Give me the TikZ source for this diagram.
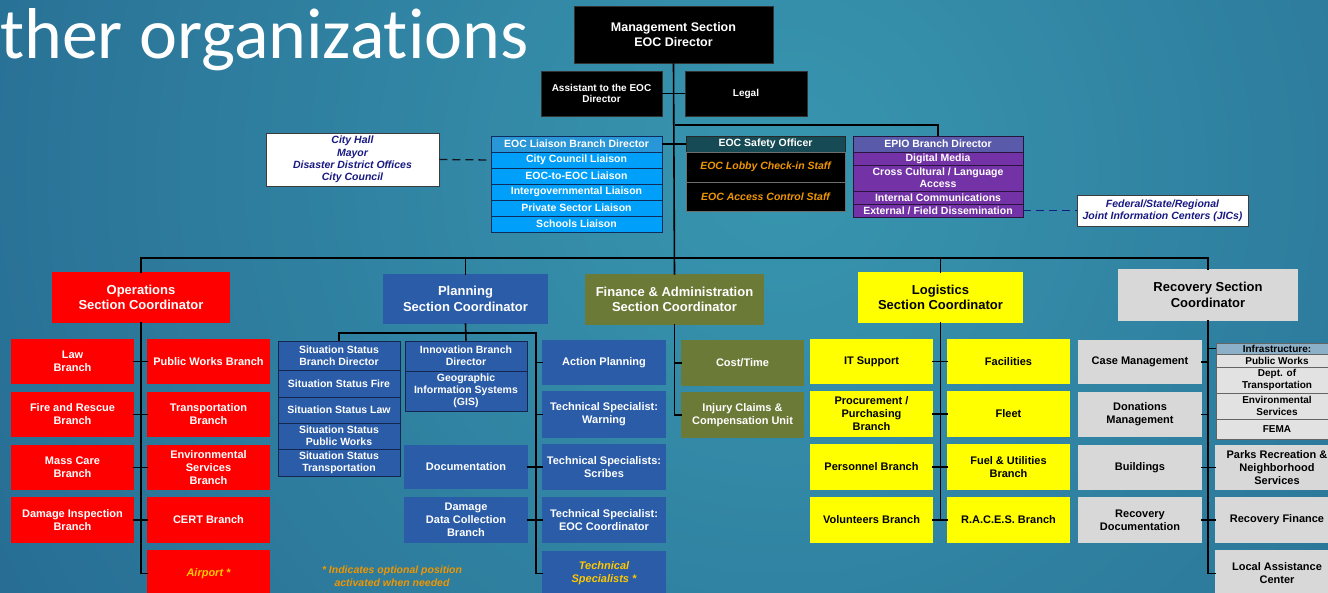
\documentclass[tikz,border=0pt]{standalone}
\usepackage{fontspec}
\setmainfont{Liberation Sans}
\newfontfamily\titlefont[Ligatures=NoCommon]{Carlito}
\definecolor{bgA}{RGB}{30,86,132}
\definecolor{bgB}{RGB}{56,150,175}
\definecolor{redf}{RGB}{255,0,0}
\definecolor{redd}{RGB}{110,0,0}
\definecolor{bluef}{RGB}{42,92,168}
\definecolor{blued}{RGB}{18,38,80}
\definecolor{olivef}{RGB}{108,122,56}
\definecolor{olived}{RGB}{45,52,25}
\definecolor{yelf}{RGB}{255,255,0}
\definecolor{yeld}{RGB}{90,90,20}
\definecolor{grayf}{RGB}{216,216,216}
\definecolor{grayd}{RGB}{100,100,100}
\definecolor{liaf}{RGB}{0,160,250}
\definecolor{liahf}{RGB}{40,150,215}
\definecolor{liad}{RGB}{15,45,90}
\definecolor{safhf}{RGB}{22,74,84}
\definecolor{epiohf}{RGB}{90,90,170}
\definecolor{epiof}{RGB}{115,50,165}
\definecolor{epiod}{RGB}{40,20,60}
\definecolor{infhf}{RGB}{140,176,200}
\definecolor{inff}{RGB}{226,226,226}
\definecolor{orT}{RGB}{240,150,0}
\definecolor{ylT}{RGB}{255,200,0}
\definecolor{navyT}{RGB}{25,25,130}
\definecolor{blkd}{RGB}{50,50,50}
\definecolor{safd}{RGB}{40,40,40}
\definecolor{safsep}{RGB}{110,110,110}
\definecolor{extd}{RGB}{60,60,60}
\definecolor{dshA}{RGB}{20,20,30}
\definecolor{dshB}{RGB}{20,30,130}
\newcommand\bx[7]{\node[#6, minimum width={#4-#2}, minimum height={#5-#3}] (#1) at ({(#2+#4)/2},{(#3+#5)/2}) {#7};}
\tikzset{
  box/.style={inner sep=0pt, align=center, font=\bfseries\fontsize{11}{13}\selectfont},
  small/.style={font=\bfseries\fontsize{10}{11.5}\selectfont},
  sec/.style={font=\bfseries\fontsize{13}{15.5}\selectfont},
  dbl/.style={line width=0.6pt, double distance=1.3pt},
  redb/.style={box, dbl, fill=redf, draw=redd, double=redf, text=white},
  blueb/.style={box, dbl, fill=bluef, draw=blued, double=bluef, text=white},
  oliveb/.style={box, dbl, fill=olivef, draw=olived, double=olivef, text=white},
  yelb/.style={box, dbl, fill=yelf, draw=yeld, double=yelf, text=black},
  grayb/.style={box, dbl, fill=grayf, draw=grayd, double=grayf, text=black},
  blk/.style={box, fill=black, draw=blkd, line width=0.6pt, text=white},
  cell/.style={box, line width=0.6pt, font=\bfseries\fontsize{10.5}{12}\selectfont},
  liahd/.style={cell, fill=liahf, draw=liad, text=white},
  liac/.style={cell, fill=liaf, draw=liad, text=white},
  safhd/.style={cell, fill=safhf, draw=safd, text=white},
  safc/.style={cell, fill=black, draw=safsep, text=orT, font=\bfseries\itshape\fontsize{10.5}{12.5}\selectfont},
  epiohd/.style={cell, fill=epiohf, draw=epiod, text=white},
  epioc/.style={cell, fill=epiof, draw=epiod, text=white},
  sitc/.style={cell, fill=bluef, draw=blued, text=white},
  infhd/.style={cell, small, fill=infhf, draw=grayd, text=black},
  infc/.style={cell, small, fill=inff, draw=grayd, text=black},
  ext/.style={box, fill=white, draw=extd, line width=0.8pt, text=navyT, font=\bfseries\itshape\fontsize{10.5}{12.3}\selectfont},
  conn/.style={draw=black, line width=1.6pt},
  dsh/.style={dash pattern=on 8pt off 5pt, line width=1.3pt},
  italy/.style={text=ylT, font=\bfseries\itshape\fontsize{11}{13}\selectfont},
}
\begin{document}
\begin{tikzpicture}[x=1pt,y=-1pt]
\useasboundingbox (0,0) rectangle (1328,592);
\clip (0,0) rectangle (1328,592);
\shade[inner color=bgB, outer color=bgA] (780,170) circle (1400pt);
\node[anchor=base west, inner sep=0pt, text=white, font=\titlefont\fontsize{72}{80}\selectfont] (title) at (0,58) {ther organizations};

% ---------- top ----------
\bx{mgmt}{574}{6}{773}{63}{blk,font=\bfseries\fontsize{12.5}{15}\selectfont}{Management Section\\EOC Director}
\bx{asst}{541}{71}{662}{116}{blk,small}{Assistant to the EOC\\Director}
\bx{legal}{685}{71}{807}{116}{blk,small}{Legal}

\bx{liah}{491}{136}{662}{152}{liahd}{EOC Liaison Branch Director}
\bx{lia1}{491}{152}{662}{168}{liac}{City Council Liaison}
\bx{lia2}{491}{168}{662}{184}{liac}{EOC-to-EOC Liaison}
\bx{lia3}{491}{184}{662}{200}{liac}{Intergovernmental Liaison}
\bx{lia4}{491}{200}{662}{216}{liac}{Private Sector Liaison}
\bx{lia5}{491}{216}{662}{232}{liac}{Schools Liaison}

\bx{safh}{686}{136}{845}{152}{safhd}{EOC Safety Officer}
\bx{saf1}{686}{152}{845}{182}{safc}{EOC Lobby Check-in Staff}
\bx{saf2}{686}{182}{845}{211}{safc}{EOC Access Control Staff}

\bx{epioh}{853}{136}{1023}{152}{epiohd}{EPIO Branch Director}
\bx{epio1}{853}{152}{1023}{165}{epioc}{Digital Media}
\bx{epio2}{853}{165}{1023}{191}{epioc}{Cross Cultural / Language\\Access}
\bx{epio3}{853}{191}{1023}{204}{epioc}{Internal Communications}
\bx{epio4}{853}{204}{1023}{217}{epioc}{External / Field Dissemination}

\bx{city}{266}{133}{439}{186}{ext}{City Hall\\Mayor\\Disaster District Offices\\City Council}
\bx{fed}{1077}{195}{1248}{226}{ext}{Federal/State/Regional\\Joint Information Centers (JICs)}

% ---------- sections ----------
\bx{ops}{53}{273}{229}{322}{redb,sec}{Operations\\Section Coordinator}
\bx{plan}{384}{275}{547}{323}{blueb,sec}{Planning\\Section Coordinator}
\bx{fin}{586}{275}{763}{324}{oliveb,sec}{Finance \& Administration\\Section Coordinator}
\bx{log}{859}{273}{1022}{322}{yelb,sec}{Logistics\\Section Coordinator}
\bx{rec}{1119}{270}{1297}{320}{grayb,sec}{Recovery Section\\Coordinator}

% ---------- operations ----------
\bx{law}{12}{340}{133}{383}{redb}{Law\\Branch}
\bx{fire}{12}{393}{133}{436}{redb}{Fire and Rescue\\Branch}
\bx{mass}{12}{446}{133}{489}{redb}{Mass Care\\Branch}
\bx{dmgi}{12}{498}{133}{542}{redb}{Damage Inspection\\Branch}
\bx{pwb}{148}{340}{269}{383}{redb}{Public Works Branch}
\bx{trb}{148}{393}{269}{436}{redb}{Transportation\\Branch}
\bx{env}{148}{446}{269}{489}{redb}{Environmental\\Services\\Branch}
\bx{cert}{148}{498}{269}{542}{redb}{CERT Branch}
\bx{airport}{148}{551}{269}{596}{redb,italy}{Airport *}

% ---------- planning ----------
\bx{sit1}{278}{341}{400}{370}{sitc}{Situation Status\\Branch Director}
\bx{sit2}{278}{370}{400}{397}{sitc}{Situation Status Fire}
\bx{sit3}{278}{397}{400}{423}{sitc}{Situation Status Law}
\bx{sit4}{278}{423}{400}{449}{sitc}{Situation Status\\Public Works}
\bx{sit5}{278}{449}{400}{476}{sitc}{Situation Status\\Transportation}
\bx{inn1}{405}{341}{527}{371}{sitc}{Innovation Branch\\Director}
\bx{inn2}{405}{371}{527}{411}{sitc}{Geographic\\Information Systems\\(GIS)}
\bx{doc}{405}{446}{527}{488}{blueb}{Documentation}
\bx{dmgd}{405}{498}{527}{542}{blueb}{Damage\\Data Collection\\Branch}
\bx{ap}{543}{341}{665}{384}{blueb}{Action Planning}
\bx{tsw}{543}{392}{665}{437}{blueb}{Technical Specialist:\\Warning}
\bx{tss}{543}{445}{665}{489}{blueb}{Technical Specialists:\\Scribes}
\bx{tse}{543}{498}{665}{542}{blueb}{Technical Specialist:\\EOC Coordinator}
\bx{tsx}{543}{552}{665}{595}{blueb,italy}{Technical\\Specialists *}
\node[inner sep=0pt, align=center, text=orT, font=\bfseries\itshape\fontsize{10.5}{12.5}\selectfont] (foot) at (392,576) {* Indicates optional position\\activated when needed};

% ---------- finance ----------
\bx{cost}{682}{341}{803}{385}{oliveb}{Cost/Time}
\bx{inj}{682}{393}{803}{437}{oliveb}{Injury Claims \&\\Compensation Unit}

% ---------- logistics ----------
\bx{it}{811}{340}{932}{383}{yelb}{IT Support}
\bx{proc}{811}{392}{932}{436}{yelb}{Procurement /\\Purchasing\\Branch}
\bx{pers}{811}{445}{932}{489}{yelb}{Personnel Branch}
\bx{vol}{811}{498}{932}{542}{yelb}{Volunteers Branch}
\bx{fac}{948}{340}{1069}{383}{yelb}{Facilities}
\bx{fleet}{948}{392}{1069}{436}{yelb}{Fleet}
\bx{fuel}{948}{445}{1069}{489}{yelb}{Fuel \& Utilities\\Branch}
\bx{races}{948}{498}{1069}{542}{yelb}{R.A.C.E.S. Branch}

% ---------- recovery ----------
\bx{case}{1079}{341}{1201}{383}{grayb}{Case Management}
\bx{don}{1079}{393}{1201}{436}{grayb}{Donations\\Management}
\bx{bld}{1079}{446}{1201}{489}{grayb}{Buildings}
\bx{rdoc}{1079}{498}{1201}{542}{grayb}{Recovery\\Documentation}
\bx{infh}{1216}{343}{1338}{354}{infhd}{Infrastructure:}
\bx{inf1}{1216}{354}{1338}{367}{infc}{Public Works}
\bx{inf2}{1216}{367}{1338}{393}{infc}{Dept. of\\Transportation}
\bx{inf3}{1216}{393}{1338}{419}{infc}{Environmental\\Services}
\bx{inf4}{1216}{419}{1338}{439}{infc}{FEMA}
\bx{parks}{1216}{446}{1338}{489}{grayb}{Parks Recreation \&\\Neighborhood\\Services}
\bx{rfin}{1216}{498}{1338}{542}{grayb}{Recovery Finance}
\bx{lac}{1216}{551}{1338}{596}{grayb}{Local Assistance\\Center}

% ---------- connectors ----------
\coordinate (bus) at (675,258);
\coordinate (j1) at (675,125);
\coordinate (pbar) at (536,333);
\draw[conn] (mgmt.south) -- (fin.north);
\draw[conn] (asst.east) -- (legal.west);
\draw[conn] (j1) -| (epioh.north);
\draw[conn] (liah.east) -- (safh.west);
\draw[dsh, draw=dshA] (city.east) -- (lia1.west);
\draw[dsh, draw=dshB] (epio4.east) -- (fed.west);
\draw[conn, line width=2.4pt] (ops.north) |- (bus) -| (rec.north);
\draw[conn] (plan.north) -- (plan.north |- bus);
\draw[conn] (log.north) -- (log.north |- bus);
% operations
\draw[conn] (ops.south) |- (airport.west);
\draw[conn] (law.east) -- (pwb.west);
\draw[conn] (fire.east) -- (trb.west);
\draw[conn] (mass.east) -- (env.west);
\draw[conn] (dmgi.east) -- (cert.west);
% planning
\draw[conn] (plan.south) -- (inn1.north);
\draw[conn] (sit1.north) |- (pbar) |- (tsx.west);
\draw[conn] (pbar |- ap.west) -- (ap.west);
\draw[conn] (pbar |- tsw.west) -- (tsw.west);
\draw[conn] (doc.east) -- (tss.west);
\draw[conn] (dmgd.east) -- (tse.west);
% finance
\draw[conn] (fin.south) |- (inj.west);
\draw[conn] (fin.south |- cost.west) -- (cost.west);
% logistics
\draw[conn] (log.south) -- (log.south |- vol.east);
\draw[conn] (it.east) -- (fac.west);
\draw[conn] (proc.east) -- (fleet.west);
\draw[conn] (pers.east) -- (fuel.west);
\draw[conn] (vol.east) -- (races.west);
% recovery
\draw[conn] (rec.south) |- (lac.west);
\draw[conn] (rec.south |- infh.west) -- (infh.west);
\draw[conn] (case.east) -- (case.east -| rec.south);
\draw[conn] (don.east) -- (don.east -| rec.south);
\draw[conn] (bld.east) -- (parks.west);
\draw[conn] (rdoc.east) -- (rfin.west);
\end{tikzpicture}
\end{document}
